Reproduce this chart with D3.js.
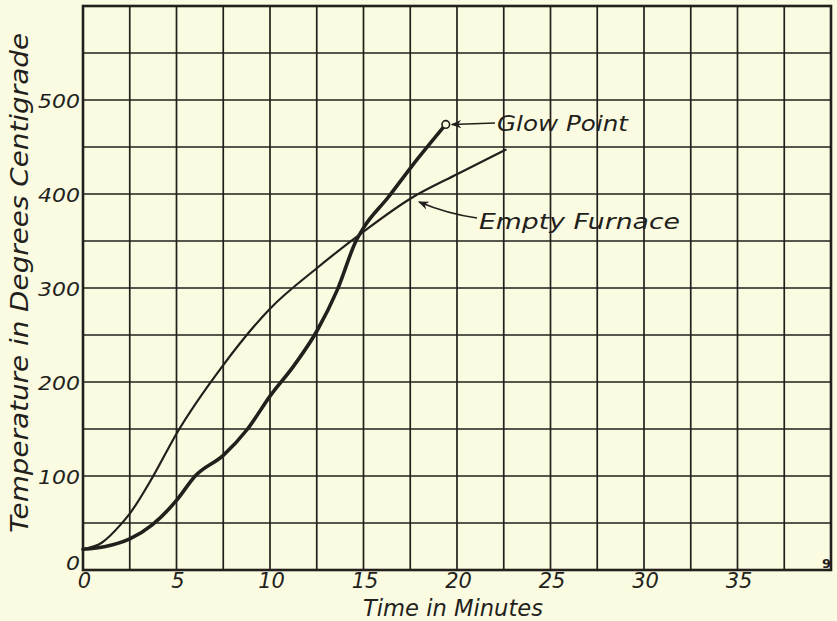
<!DOCTYPE html>
<html>
<head>
<meta charset="utf-8">
<script src="https://cdn.jsdelivr.net/npm/d3@7"></script>
<style>
  html, body { margin: 0; padding: 0; background: #fbfbe1; }
  svg { display: block; }
  text { font-family: "DejaVu Sans", sans-serif; font-style: italic; fill: #231f1c; }
</style>
</head>
<body>
<svg id="chart" width="837" height="621"></svg>
<script>
// Furnace heating curves: temperature (°C) against time (minutes)
const emptyTime = [0, 1, 2, 2.5, 3.7, 5, 7.5, 10, 12.5, 15, 17.5, 20, 22.6];
const emptyTemp = [22, 29, 48, 60, 98, 145, 218, 278, 321, 360, 395, 421, 447];

const glowTime = [0, 1.2, 2.5, 3.7, 5, 6, 7.5, 8.8, 10, 11.3, 12.5, 13.6, 14.6, 15, 16.3, 17.6, 19.4];
const glowTemp = [22, 25, 33, 48, 74, 100, 122, 150, 185, 218, 254, 298, 350, 364, 396, 430, 474];

const xTickLabels = [0, 5, 10, 15, 20, 25, 30, 35];
const yTickLabels = [0, 100, 200, 300, 400, 500];

const xTitle = "Time in Minutes";
const yTitle = "Temperature in Degrees Centigrade";
const glowLabel = "Glow Point";
const emptyLabel = "Empty Furnace";
const figNumber = "9";

const ink = "#231f1c";
const paper = "#fbfbe1";
const svg = d3.select("#chart");

const plotLeft = 83, plotRight = 831, plotTop = 6, plotBottom = 570;
const x = d3.scaleLinear().domain([0, 40]).range([plotLeft, plotRight]);
const y = d3.scaleLinear().domain([0, 600]).range([plotBottom, plotTop]);

// Grid: a line every 2.5 minutes and every 50 degrees
const gridX = d3.range(0, 40.01, 2.5);
const gridY = d3.range(0, 600.01, 50);

svg.append("g")
  .selectAll("line")
  .data(gridX)
  .join("line")
  .attr("x1", d => x(d)).attr("x2", d => x(d))
  .attr("y1", plotTop).attr("y2", plotBottom)
  .attr("stroke", ink).attr("stroke-width", 1.7);

svg.append("g")
  .selectAll("line")
  .data(gridY)
  .join("line")
  .attr("x1", plotLeft).attr("x2", plotRight)
  .attr("y1", d => y(d)).attr("y2", d => y(d))
  .attr("stroke", ink).attr("stroke-width", 1.7);

svg.append("rect")
  .attr("x", plotLeft).attr("y", plotTop)
  .attr("width", plotRight - plotLeft).attr("height", plotBottom - plotTop)
  .attr("fill", "none").attr("stroke", ink).attr("stroke-width", 2.6);

// Axis labels
const xAxis = svg.append("g")
  .attr("transform", `translate(0,${plotBottom})`)
  .call(d3.axisBottom(x).tickValues(xTickLabels).tickSize(0).tickPadding(0).tickFormat(d3.format("d")));
xAxis.select(".domain").remove();
xAxis.selectAll("text")
  .attr("y", 18).attr("dy", 0)
  .attr("dx", 1)
  .style("font-size", "21px")
  .style("font-family", "'DejaVu Sans', sans-serif")
  .style("font-style", "italic")
  .attr("fill", ink);

const yAxis = svg.append("g")
  .attr("transform", `translate(${plotLeft},0)`)
  .call(d3.axisLeft(y).tickValues(yTickLabels).tickSize(0).tickPadding(0).tickFormat(d3.format("d")));
yAxis.select(".domain").remove();
yAxis.selectAll("text")
  .attr("x", -3)
  .attr("dy", d => d === 0 ? "-0.05em" : "0.35em")
  .style("font-size", "20px")
  .style("font-family", "'DejaVu Sans', sans-serif")
  .style("font-style", "italic")
  .attr("fill", ink)
  .attr("textLength", d => String(d).length * 14)
  .attr("lengthAdjust", "spacingAndGlyphs");

// Titles
svg.append("text")
  .attr("x", 363).attr("y", 616)
  .attr("textLength", 180).attr("lengthAdjust", "spacingAndGlyphs")
  .style("font-size", "23px")
  .text(xTitle);

svg.append("text")
  .attr("transform", "translate(28,533) rotate(-90)")
  .attr("textLength", 500).attr("lengthAdjust", "spacingAndGlyphs")
  .style("font-size", "25px")
  .text(yTitle);

// Curves
const line = d3.line()
  .x(d => x(d[0])).y(d => y(d[1]))
  .curve(d3.curveMonotoneX);

const emptyPts = d3.zip(emptyTime, emptyTemp);
const glowPts = d3.zip(glowTime, glowTemp);

svg.append("path")
  .datum(emptyPts)
  .attr("d", line)
  .attr("fill", "none").attr("stroke", ink)
  .attr("stroke-width", 2.2).attr("stroke-linecap", "round");

svg.append("path")
  .datum(glowPts)
  .attr("d", line)
  .attr("fill", "none").attr("stroke", ink)
  .attr("stroke-width", 3.6).attr("stroke-linecap", "round");

// Glow point marker at the end of the loaded curve
const gEnd = glowPts[glowPts.length - 1];
svg.append("circle")
  .attr("cx", x(gEnd[0])).attr("cy", y(gEnd[1]))
  .attr("r", 3.8)
  .attr("fill", paper).attr("stroke", ink).attr("stroke-width", 1.6);

// Annotation arrows
const defs = svg.append("defs");
defs.append("marker")
  .attr("id", "arrow")
  .attr("viewBox", "0 0 10 10")
  .attr("refX", 9).attr("refY", 5)
  .attr("markerWidth", 9).attr("markerHeight", 7)
  .attr("orient", "auto")
  .append("path")
  .attr("d", "M0,1 L10,5 L0,9 L3,5 Z")
  .attr("fill", ink);

const gx = x(gEnd[0]), gy = y(gEnd[1]);
svg.append("path")
  .attr("d", `M495,${gy - 1.5} L${gx + 6},${gy}`)
  .attr("fill", "none").attr("stroke", ink).attr("stroke-width", 1.5)
  .attr("marker-end", "url(#arrow)");

svg.append("text")
  .attr("x", 497).attr("y", 131)
  .attr("textLength", 131).attr("lengthAdjust", "spacingAndGlyphs")
  .style("font-size", "22px")
  .text(glowLabel);

svg.append("path")
  .attr("d", "M477,218 Q448,214 419,202")
  .attr("fill", "none").attr("stroke", ink).attr("stroke-width", 1.5)
  .attr("marker-end", "url(#arrow)");

svg.append("text")
  .attr("x", 479).attr("y", 229)
  .attr("textLength", 201).attr("lengthAdjust", "spacingAndGlyphs")
  .style("font-size", "22px")
  .text(emptyLabel);

// Figure number in the lower right corner
svg.append("text")
  .attr("x", 822).attr("y", 568)
  .style("font-size", "13px").style("font-weight", "bold").style("font-style", "normal")
  .text(figNumber);
</script>
</body>
</html>
